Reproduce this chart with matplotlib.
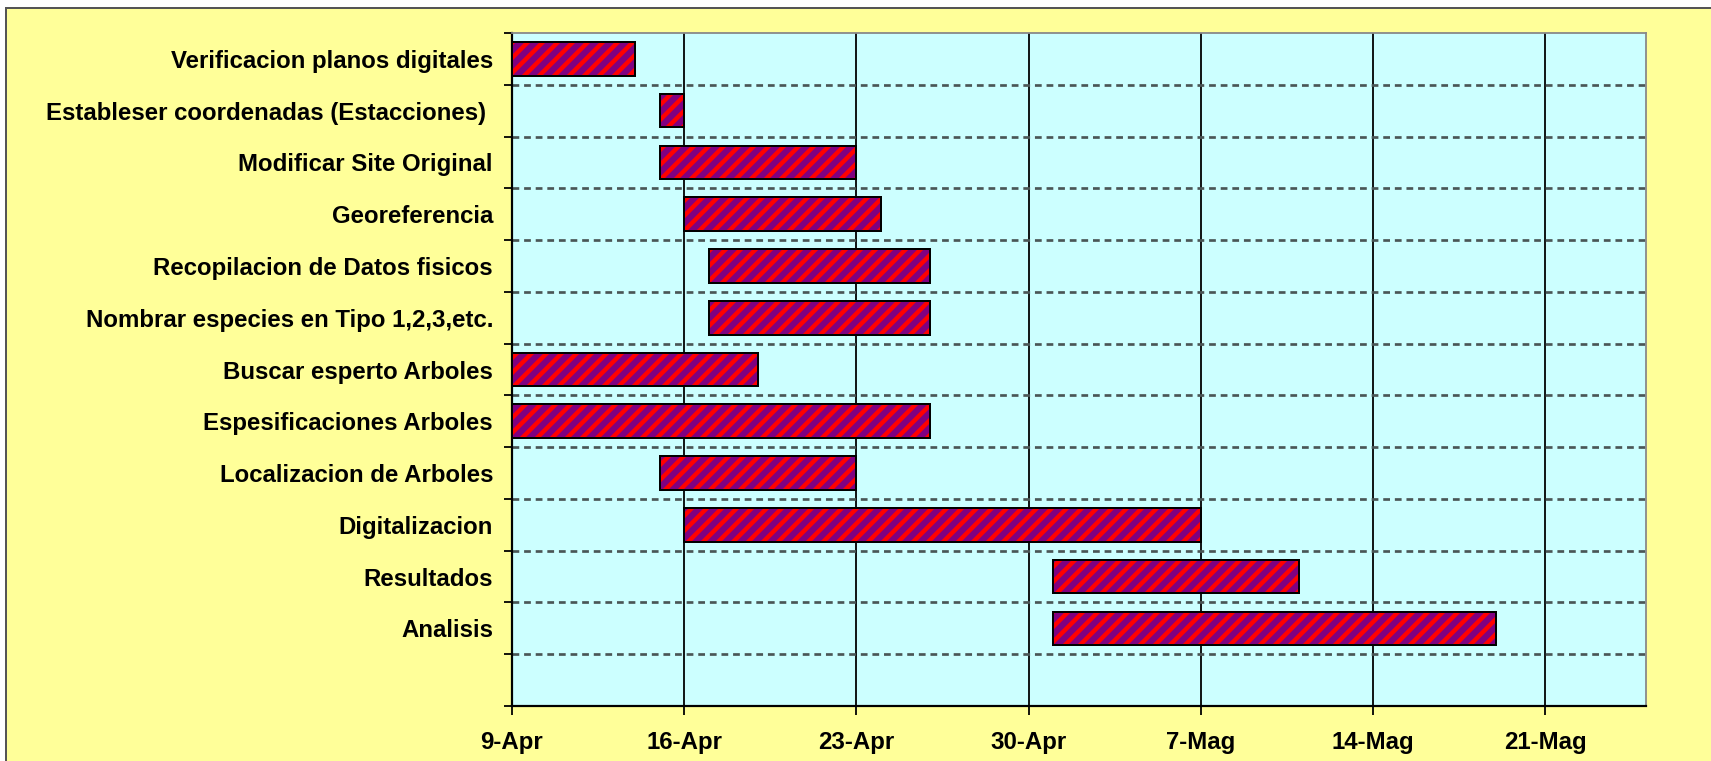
import datetime as dt
import matplotlib
matplotlib.use('Agg')
from matplotlib import pyplot as plt
import matplotlib.dates as mdates
from matplotlib.patches import Rectangle
import numpy as np

tareas = ['Verificacion planos digitales',
          'Estableser coordenadas (Estacciones) ',
          'Modificar Site Original',
          'Georeferencia',
          'Recopilacion de Datos fisicos',
          'Nombrar especies en Tipo 1,2,3,etc.',
          'Buscar esperto Arboles',
          'Espesificaciones Arboles',
          'Localizacion de Arboles',
          'Digitalizacion',
          'Resultados',
          'Analisis']
inicio = ['2007-04-09', '2007-04-15', '2007-04-15', '2007-04-16', '2007-04-17', '2007-04-17',
          '2007-04-09', '2007-04-09', '2007-04-15', '2007-04-16', '2007-05-01', '2007-05-01']
duracion = [5, 1, 8, 8, 9, 9, 10, 17, 8, 21, 10, 18]   # dias
semanas = ['2007-04-09', '2007-04-16', '2007-04-23', '2007-04-30', '2007-05-07', '2007-05-14', '2007-05-21']
etiquetas_x = ['9-Apr', '16-Apr', '23-Apr', '30-Apr', '7-Mag', '14-Mag', '21-Mag']

amarillo = '#FFFF99'
cian = '#CCFFFF'
morado = '#800080'

W, H, DPI = 1711, 761, 90     # dpi 90 -> rayas de 15 px con '//'
k = 72 / DPI                  # px -> puntos

fuente = dict(family=['Liberation Sans', 'DejaVu Sans'], weight='bold', size=24 * k)
plt.rcParams['hatch.linewidth'] = 4.4 * k

fig = plt.figure(figsize=(W / DPI, H / DPI), dpi=DPI, facecolor='white')
fondo = Rectangle((6 / W, -0.01), 1.01, 1 - 8 / H + 0.01, transform=fig.transFigure,
                  facecolor=amarillo, edgecolor='#555555', linewidth=2 * k, zorder=-10)
fig.patches.append(fondo)

ax = fig.add_axes([512 / W, 1 - 706 / H, (1646 - 512) / W, (706 - 33) / H])
ax.set_facecolor(cian)

x0 = [mdates.date2num(dt.date.fromisoformat(d)) for d in inicio]
y = np.arange(len(tareas))
# barras: relleno morado con rayas rojas, luego el borde negro
ax.barh(y, duracion, left=x0, height=0.65, color=morado, edgecolor='red', linewidth=0,
        hatch='//', zorder=3)
ax.barh(y, duracion, left=x0, height=0.65, fill=False, edgecolor='black', linewidth=2 * k, zorder=4)

xt = [mdates.date2num(dt.date.fromisoformat(d)) for d in semanas]
ax.set_xlim(xt[0], xt[0] + 46.1)
ax.set_ylim(12.5, -0.5)

ax.set_xticks(xt)
ax.set_xticklabels(etiquetas_x, **fuente)
ax.tick_params(axis='x', length=9 * k, width=1.8 * k, pad=16 * k, colors='black')
for x in xt[1:]:
    ax.axvline(x, color='black', linewidth=1.8 * k, zorder=1)

ax.set_yticks(np.arange(-0.5, 12.6, 1))
ax.set_yticklabels([])
ax.set_yticks(y, minor=True)
ax.set_yticklabels(tareas, minor=True, **fuente)
ax.tick_params(axis='y', which='major', length=8 * k, width=1.8 * k, direction='out')
ax.tick_params(axis='y', which='minor', length=0, pad=19 * k)
for yy in np.arange(0.5, 12.0, 1):
    ax.axhline(yy, color='#4a5656', linewidth=2.7 * k, linestyle=(0, (2.5, 1.8)), zorder=1)

for s in ['left', 'bottom']:
    ax.spines[s].set_linewidth(2.2 * k)
    ax.spines[s].set_color('black')
for s in ['top', 'right']:
    ax.spines[s].set_linewidth(1.8 * k)
    ax.spines[s].set_color('#888888')

fig.savefig('out.png', dpi=DPI, facecolor=fig.get_facecolor())
